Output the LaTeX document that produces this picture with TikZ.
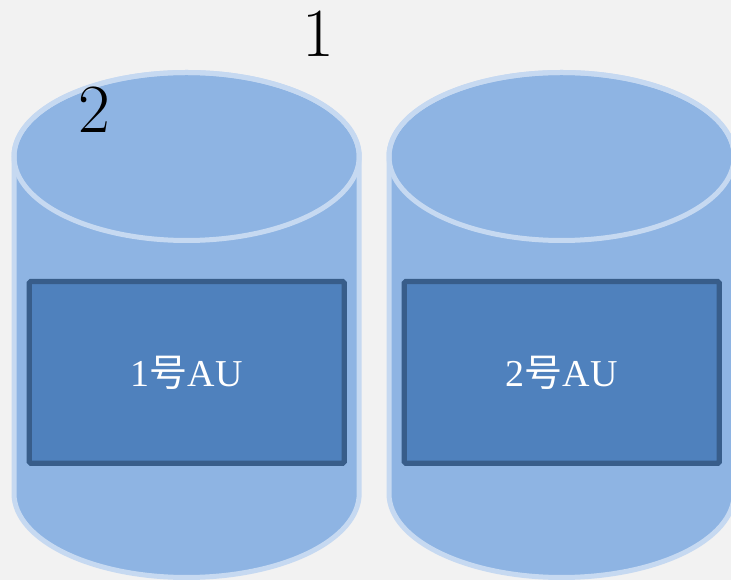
\documentclass[tikz,border=0pt]{standalone}
\usepackage{fontspec}
\newfontfamily\cjk{Noto Sans CJK SC}
\newfontfamily\latinserif{Liberation Serif}
\definecolor{pagebg}{HTML}{F2F2F2}
\definecolor{cylfill}{HTML}{8EB4E3}
\definecolor{cylline}{HTML}{C6D9F1}
\definecolor{aufill}{HTML}{4F81BD}
\definecolor{auline}{HTML}{385D8A}
\tikzset{
  cylbody/.style={fill=cylfill, draw=cylline, line width=5pt},
  aubox/.style={draw=auline, fill=aufill, line width=5.3pt, rounded corners=1.5pt,
    minimum width=314.9pt, minimum height=181.8pt, inner sep=0pt,
    text=white, font=\fontsize{38}{38}\selectfont},
  bignum/.style={anchor=base, inner sep=0pt, font=\fontsize{69}{69}\selectfont},
  pics/storage/.style={code={
    % side walls, bottom half of the base ellipse and the back of the lid
    \path[cylbody] (-172.6,0) -- (-172.6,-337)
      arc[start angle=180, end angle=360, x radius=172.6pt, y radius=84pt]
      -- (172.6,0)
      arc[start angle=0, end angle=180, x radius=172.6pt, y radius=84pt] -- cycle;
    % the lid outline
    \draw[cylline, line width=5pt] (0,0) ellipse[x radius=172.6pt, y radius=84pt];
  }}
}
\begin{document}
\begin{tikzpicture}[x=1pt, y=1pt]
  \path[use as bounding box, clip] (0,0) rectangle (731,580);
  \fill[pagebg] (0,0) rectangle (731,580);

  \pic at (186.6,423.5) {storage};
  \pic at (561.6,423.5) {storage};

  \node[aubox] (au1) at (186.75,207.6) {\latinserif 1{\cjk 号}AU};
  \node[aubox] (au2) at (561.75,207.6) {\latinserif 2{\cjk 号}AU};

  \node[bignum] (lab1) at (318,523) {1};
  \node[bignum] (lab2) at (94,447) {2};
\end{tikzpicture}
\end{document}
